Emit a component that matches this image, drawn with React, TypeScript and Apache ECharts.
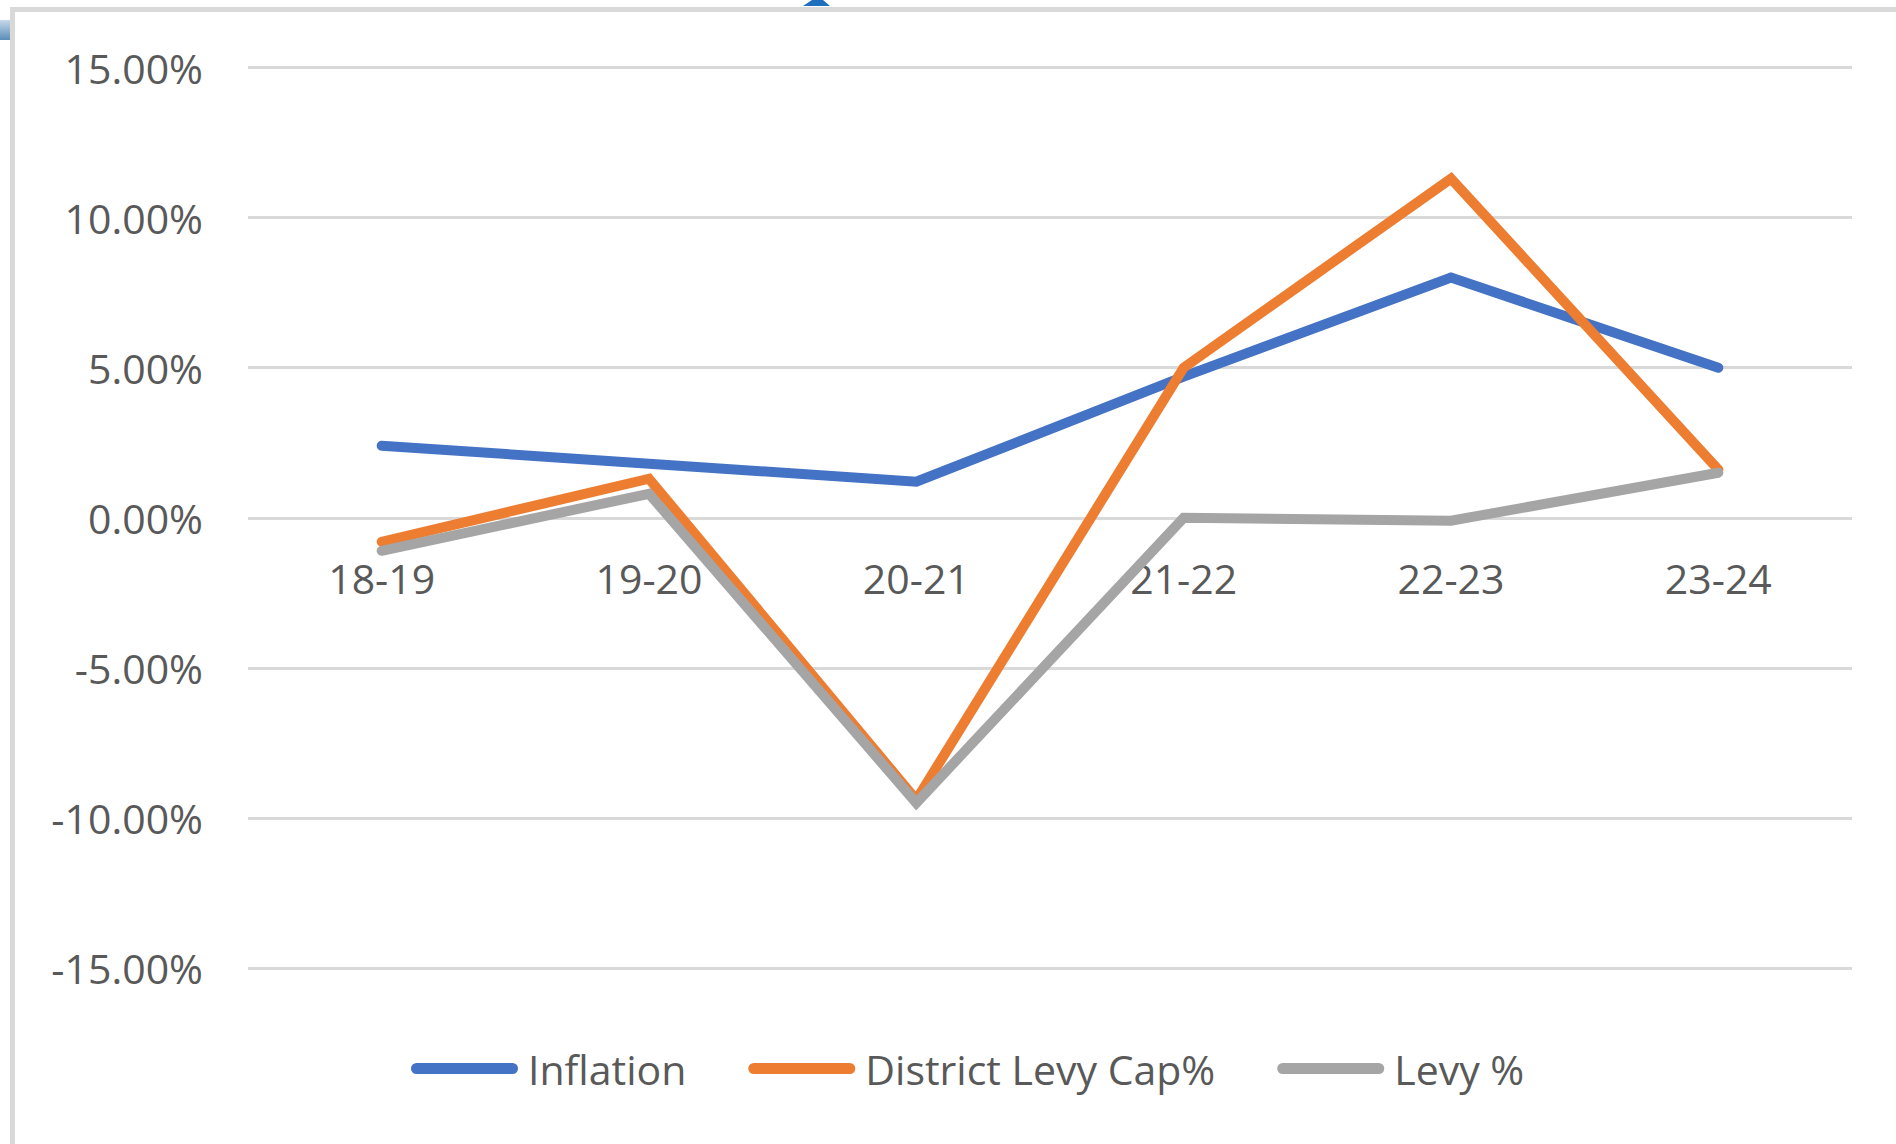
import React, { useEffect, useRef } from "react";
import * as echarts from "echarts";

const categories = ["18-19", "19-20", "20-21", "21-22", "22-23", "23-24"];
const inflation = [2.4, 1.8, 1.2, 4.7, 8.0, 5.0];
const districtLevyCap = [-0.8, 1.3, -9.4, 5.0, 11.3, 1.6];
const levyPct = [-1.1, 0.8, -9.5, 0.0, -0.1, 1.5];
const seriesNames = ["Inflation", "District Levy Cap%", "Levy %"];
const seriesColors = ["#4472c4", "#ed7d31", "#a5a5a5"];

const FONT = "'Open Sans', 'Noto Sans', sans-serif";
const LABEL_COLOR = "#595959";
const GRID_COLOR = "#d9d9d9";

const GRID_TOP = 67.5;
const GRID_BOTTOM = 176;
const PLOT_HEIGHT = 1144 - GRID_TOP - GRID_BOTTOM;

export default function App() {
  const ref = useRef<HTMLDivElement>(null);

  useEffect(() => {
    if (!ref.current) return;
    const chart = echarts.init(ref.current, null, { renderer: "svg" });
    const datas = [inflation, districtLevyCap, levyPct];
    const option: any = {
      animation: false,
      backgroundColor: "#ffffff",
      grid: { left: 248, right: 44, top: GRID_TOP, bottom: GRID_BOTTOM },
      legend: {
        left: 406,
        top: 1043,
        itemWidth: 107,
        itemHeight: 11,
        itemGap: 62,
        icon: "path://M5.5,0 L101.5,0 A5.5,5.5 0 0 1 101.5,11 L5.5,11 A5.5,5.5 0 0 1 5.5,0 Z",
        textStyle: { fontFamily: FONT, fontSize: 41, color: LABEL_COLOR, padding: [0, 0, 0, 5] },
        data: seriesNames,
      },
      xAxis: {
        type: "category",
        data: categories,
        boundaryGap: true,
        position: "bottom",
        // axis sits on the 0% gridline (half of the -15..15 range above the bottom)
        offset: -PLOT_HEIGHT / 2,
        axisLine: { show: false, onZero: false },
        axisTick: { show: false },
        axisLabel: {
          margin: 40,
          fontFamily: FONT,
          fontSize: 41,
          color: LABEL_COLOR,
        },
        splitLine: { show: false },
      },
      yAxis: {
        type: "value",
        min: -15,
        max: 15,
        interval: 5,
        axisLine: { show: false },
        axisTick: { show: false },
        axisLabel: {
          margin: 45,
          fontFamily: FONT,
          fontSize: 41,
          color: LABEL_COLOR,
          formatter: (v: number) => v.toFixed(2) + "%",
        },
        splitLine: { show: true, lineStyle: { color: GRID_COLOR, width: 3 } },
      },
      series: seriesNames.map((name, i) => ({
        name,
        type: "line",
        data: datas[i],
        symbol: "none",
        color: seriesColors[i],
        lineStyle: { width: 10, color: seriesColors[i], cap: "round", join: "miter" },
      })),
      graphic: [
        {
          type: "line",
          shape: { x1: 12.5, y1: 9.5, x2: 1896, y2: 9.5 },
          style: { stroke: GRID_COLOR, lineWidth: 5 },
          z: 100,
        },
        {
          type: "line",
          shape: { x1: 12.5, y1: 7, x2: 12.5, y2: 1144 },
          style: { stroke: GRID_COLOR, lineWidth: 5 },
          z: 100,
        },
        {
          type: "rect",
          shape: { x: 0, y: 20, width: 10, height: 20 },
          style: {
            fill: new echarts.graphic.LinearGradient(0, 0, 0, 1, [
              { offset: 0, color: "#c6d9ea" },
              { offset: 1, color: "#5b8db8" },
            ]),
          },
          z: 100,
        },
        {
          type: "polygon",
          shape: { points: [[812, 0], [823, 0], [830, 6], [803, 6]] },
          style: { fill: "#1f6fbf" },
          z: 100,
        },
      ],
    };
    chart.setOption(option);
    return () => chart.dispose();
  }, []);

  return (
    <div
      ref={ref}
      style={{ position: "absolute", left: 0, top: 0, width: 1896, height: 1144 }}
    />
  );
}
